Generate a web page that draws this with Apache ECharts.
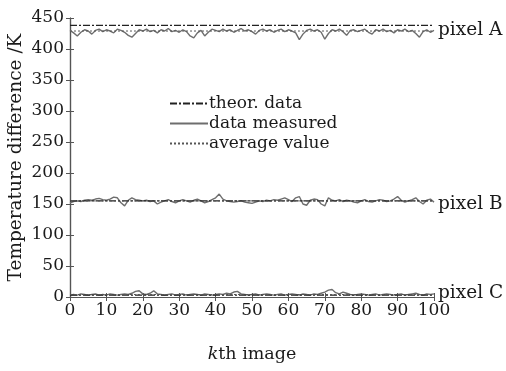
<!DOCTYPE html>
<html><head><meta charset="utf-8">
<script src="https://cdn.jsdelivr.net/npm/echarts@6/dist/echarts.min.js"></script>
<style>html,body{margin:0;padding:0;background:#fff}#c{width:506px;height:371px}</style>
</head><body><div id="c"></div>
<script>
var kIndex = [];
for (var i = 0; i <= 100; i++) kIndex.push(i);
var xTicks = [0,10,20,30,40,50,60,70,80,90,100];
var yTicks = [0,50,100,150,200,250,300,350,400,450];
var legendNames = ['theor. data','data measured','average value'];
var pixelNames = ['pixel A','pixel B','pixel C'];

var measuredA = [430,426,421,427,431,429,424,430,432,428,
 431,429,426,432,430,427,422,419,425,431,
 429,432,428,430,426,431,429,433,428,430,
 427,431,428,421,418,426,430,421,427,432,
 430,428,432,429,431,427,430,433,429,431,
 428,424,430,432,429,431,427,430,432,428,
 431,429,426,415,424,430,432,429,431,427,
 416,425,431,429,432,428,422,430,431,428,
 430,432,427,424,431,429,432,428,430,426,
 431,429,432,428,430,425,419,428,431,427,430];
var measuredB = [152,154,155,154,156,157,156,158,159,157,
 156,158,161,160,152,147,156,160,157,156,
 155,156,154,155,150,153,155,157,154,152,
 155,157,155,153,156,158,155,152,154,157,
 160,166,158,155,154,153,154,155,153,152,
 151,153,155,154,156,155,157,156,158,160,
 157,154,160,162,150,148,156,158,157,150,
 147,160,156,155,157,154,156,155,153,152,
 155,157,154,153,155,157,156,154,155,158,
 162,156,153,155,157,160,154,150,156,158,153];
var measuredC = [3,4,3,5,4,3,4,5,3,4,
 3,5,4,3,4,5,4,6,9,10,
 5,4,6,10,5,4,3,4,5,3,
 4,5,3,4,5,4,3,5,4,3,
 4,5,4,6,5,8,9,5,4,3,
 4,5,3,4,5,4,3,4,5,3,
 4,5,4,3,5,4,3,5,4,6,
 8,11,12,7,5,8,6,4,3,4,
 5,4,3,4,5,3,4,5,4,3,
 4,5,3,4,5,6,4,3,5,4,5];
var theorValues = [438, 155, 3];
var averageValues = [429, 155, 4];

var measured = [measuredA, measuredB, measuredC];
function pairs(arr){ return kIndex.map(function(k,i){ return [k, arr[i]]; }); }
function constant(v){ return kIndex.map(function(k){ return [k, v]; }); }

var font = 'DejaVu Serif';
var txt = '#1a1a1a';
var labelOffsets = [[0,-1],[0,3],[0,-1]];
var series = [];
for (var p = 0; p < 3; p++) {
  series.push({name: legendNames[0], type:'line', data: constant(theorValues[p]), symbol:'none', z:3,
    itemStyle:{color:'#222'},
    lineStyle:{color:'#222', width:1.2, type:[7,2,2,2]}});
  series.push({name: legendNames[1], type:'line', data: pairs(measured[p]), symbol:'none', z:2,
    itemStyle:{color:'#6e6e6e'},
    lineStyle:{color:'#6e6e6e', width:1.4}});
  series.push({name: legendNames[2], type:'line', data: constant(averageValues[p]), symbol:'none', z:4,
    itemStyle:{color:'#555'},
    lineStyle:{color:'#555', width:1, type:[2,2]},
    endLabel:{show:true, formatter: pixelNames[p], color: txt, fontFamily: font, fontSize: 18.5, distance: 4,
      offset: labelOffsets[p]}});
}

var chart = echarts.init(document.getElementById('c'));
chart.setOption({
  animation:false,
  backgroundColor:'#fff',
  grid:{left:70, top:18, width:364, height:279, containLabel:false, outerBoundsMode:'none'},
  legend:{
    data: legendNames.slice(),
    orient:'vertical', left:164, top:90, itemGap:3, itemWidth:38, itemHeight:19,
    itemStyle:{opacity:0},
    textStyle:{fontFamily:font, fontSize:17, color:txt, padding:[0,0,0,-4]},
    selectedMode:false
  },
  xAxis:[{
    type:'value', min:xTicks[0], max:xTicks[xTicks.length-1], interval:10,
    axisLine:{show:true, lineStyle:{color:'#555', width:1.2}},
    axisTick:{show:true, inside:true, length:4, lineStyle:{color:'#555'}},
    axisLabel:{fontFamily:font, fontSize:17, color:txt, margin:5},
    splitLine:{show:false},
    name:'{i|k}th image', nameLocation:'middle', nameGap:48, nameMoveOverlap:false,
    nameTextStyle:{fontFamily:font, fontSize:17.5, color:txt,
      rich:{i:{fontFamily:font, fontStyle:'italic', fontSize:17.5, color:txt}}}
  },{
    type:'value', position:'top', min:0, max:100, interval:10,
    axisLine:{show:true, lineStyle:{color:'#555', width:1.2}},
    axisTick:{show:true, inside:true, length:4, lineStyle:{color:'#555'}},
    axisLabel:{show:false}, splitLine:{show:false}
  }],
  yAxis:[{
    type:'value', min:yTicks[0], max:yTicks[yTicks.length-1], interval:50,
    axisLine:{show:true, lineStyle:{color:'#555', width:1.2}},
    axisTick:{show:true, inside:true, length:4, lineStyle:{color:'#555'}},
    axisLabel:{fontFamily:font, fontSize:17, color:txt, margin:6},
    splitLine:{show:false},
    name:'Temperature difference /K', nameLocation:'middle', nameGap:44, nameMoveOverlap:false,
    nameTextStyle:{fontFamily:font, fontSize:18.5, color:txt}
  },{
    type:'value', position:'right', min:0, max:450, interval:50,
    axisLine:{show:true, lineStyle:{color:'#555', width:1.2}},
    axisTick:{show:true, inside:true, length:4, lineStyle:{color:'#555'}},
    axisLabel:{show:false}, splitLine:{show:false}
  }],
  series: series
});
</script></body></html>
